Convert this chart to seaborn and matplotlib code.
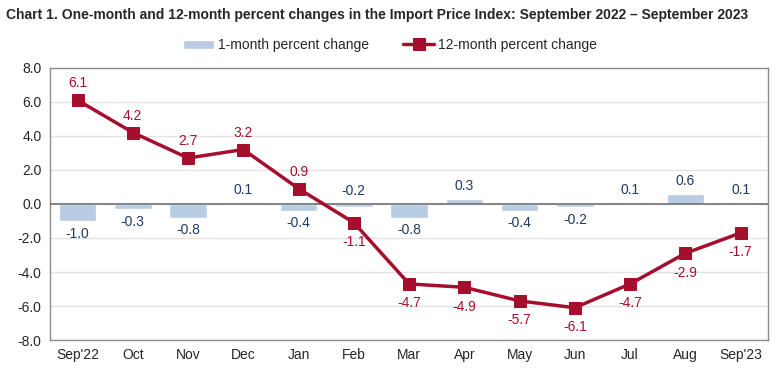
import matplotlib
matplotlib.use('Agg')
import matplotlib.pyplot as plt
import seaborn as sns
import numpy as np

months = ["Sep'22", 'Oct', 'Nov', 'Dec', 'Jan', 'Feb', 'Mar', 'Apr', 'May', 'Jun', 'Jul', 'Aug', "Sep'23"]
one_month = [-1.0, -0.3, -0.8, 0.1, -0.4, -0.2, -0.8, 0.3, -0.4, -0.2, 0.1, 0.6, 0.1]
twelve_month = [6.1, 4.2, 2.7, 3.2, 0.9, -1.1, -4.7, -4.9, -5.7, -6.1, -4.7, -2.9, -1.7]
yticks = [-8, -6, -4, -2, 0, 2, 4, 6, 8]

bar_color = '#b8cce4'
line_color = '#a50f2d'
bar_text = '#1f3864'

sns.set_style('white')
plt.rcParams['font.family'] = ['Liberation Sans', 'DejaVu Sans']

fig = plt.figure(figsize=(7.8, 3.77), dpi=100)
ax = fig.add_axes([0.064, 0.098, 0.921, 0.722])

x = np.arange(len(months))
sns.barplot(x=x, y=one_month, color=bar_color, width=0.68, ax=ax,
            saturation=1, label='1-month percent change', zorder=2)
sns.lineplot(x=x, y=twelve_month, color=line_color, lw=2.5, marker='s',
             markersize=8, markeredgecolor=line_color, ax=ax,
             label='12-month percent change', zorder=4)

ax.set_xlim(-0.5, len(months) - 0.5)
ax.set_ylim(-8, 8)
ax.set_yticks(yticks)
ax.set_yticklabels([f'{v:.1f}' for v in yticks])
ax.set_xticks(x)
ax.set_xticklabels(months)
ax.tick_params(axis='both', labelsize=10, length=0, pad=6)
ax.grid(axis='y', color='#e3e3e3', lw=1, zorder=0)
ax.axhline(0, color='#707070', lw=1.2, zorder=3)
for s in ax.spines.values():
    s.set_color('#8c8c8c')
    s.set_linewidth(1)

# value labels
for i, v in enumerate(one_month):
    if v >= 0 or months[i] == 'Feb':
        ax.annotate(f'{v:.1f}', (i, max(v, 0)), xytext=(0, 4), textcoords='offset points',
                    ha='center', va='bottom', fontsize=10, color=bar_text)
    else:
        ax.annotate(f'{v:.1f}', (i, v), xytext=(0, -4), textcoords='offset points',
                    ha='center', va='top', fontsize=10, color=bar_text)
for i, v in enumerate(twelve_month):
    if v > 0:
        ax.annotate(f'{v:.1f}', (i, v), xytext=(0, 7), textcoords='offset points',
                    ha='center', va='bottom', fontsize=10, color=line_color)
    else:
        ax.annotate(f'{v:.1f}', (i, v), xytext=(0, -9), textcoords='offset points',
                    ha='center', va='top', fontsize=10, color=line_color)

handles, labels = ax.get_legend_handles_labels()
ax.get_legend().remove()
order = [labels.index('1-month percent change'), labels.index('12-month percent change')]
fig.legend([handles[k] for k in order], [labels[k] for k in order],
           loc='center', bbox_to_anchor=(0.5, 0.88), ncol=2,
           frameon=False, fontsize=10, handlelength=2.2, columnspacing=2.5,
           handletextpad=0.3)

fig.text(0.008, 0.96, 'Chart 1. One-month and 12-month percent changes in the Import Price Index: September 2022 \u2013 September 2023',
         fontsize=10, fontweight='bold', ha='left', va='center')

fig.savefig('out.png', dpi=100)
